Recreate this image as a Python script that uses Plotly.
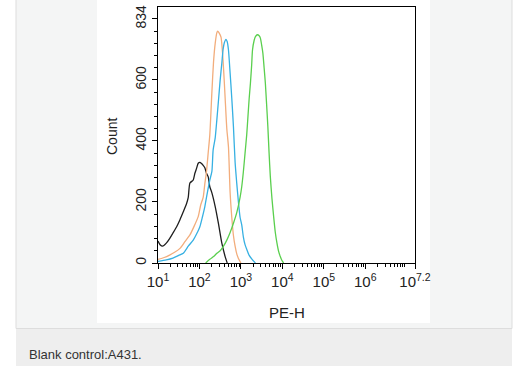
import numpy as np
import plotly.graph_objects as go

# ---- data (x values given as log10 of PE-H) ----
black_log10 = [1.00, 1.05, 1.11, 1.20, 1.28, 1.36, 1.45, 1.53, 1.61, 1.69, 1.73, 1.77, 1.85, 1.89,
               1.93, 1.97, 2.01, 2.05, 2.09, 2.13, 2.17, 2.21, 2.25, 2.30, 2.38, 2.46, 2.54, 2.62, 2.67]
black_count = [72, 60, 55, 65, 80, 98, 119, 142, 168, 195, 215, 262, 272, 294,
               310, 327, 330, 326, 320, 312, 294, 283, 250, 230, 185, 128, 65, 21, 0]

orange_log10 = [1.00, 1.15, 1.28, 1.40, 1.53, 1.65, 1.77, 1.87, 1.97, 2.03, 2.09, 2.13, 2.17, 2.21,
                2.25, 2.30, 2.34, 2.38, 2.42, 2.44, 2.47, 2.52, 2.58, 2.62, 2.66, 2.70, 2.74, 2.78,
                2.82, 2.86, 2.90, 2.94, 3.00]
orange_count = [12, 18, 26, 35, 48, 70, 92, 120, 152, 190, 215, 260, 300, 360,
                420, 560, 660, 720, 755, 760, 755, 740, 640, 540, 440, 380, 230, 150,
                90, 55, 30, 15, 0]

blue_log10 = [1.00, 1.20, 1.36, 1.50, 1.61, 1.73, 1.85, 1.93, 2.01, 2.07, 2.13, 2.19, 2.25, 2.30,
              2.33, 2.38, 2.42, 2.46, 2.50, 2.54, 2.57, 2.60, 2.64, 2.67, 2.70, 2.74, 2.78, 2.82,
              2.86, 2.90, 2.94, 2.98, 3.02, 3.06, 3.10, 3.14, 3.20, 3.27, 3.35]
blue_count = [5, 10, 16, 25, 32, 55, 75, 95, 119, 150, 185, 230, 272, 300,
              370, 410, 470, 534, 600, 655, 700, 722, 733, 725, 698, 622, 540, 447,
              330, 261, 200, 150, 125, 85, 60, 45, 25, 12, 0]

green_log10 = [2.15, 2.25, 2.35, 2.42, 2.50, 2.58, 2.66, 2.74, 2.82, 2.90, 2.98, 3.02, 3.06, 3.10,
               3.14, 3.17, 3.20, 3.23, 3.26, 3.28, 3.32, 3.35, 3.40, 3.44, 3.47, 3.50, 3.53, 3.56,
               3.59, 3.62, 3.65, 3.68, 3.71, 3.75, 3.79, 3.83, 3.87, 3.91, 3.95, 3.99, 4.03]
green_count = [0, 12, 22, 32, 40, 55, 75, 100, 130, 165, 215, 250, 300, 360,
               420, 480, 540, 590, 650, 698, 730, 742, 748, 745, 737, 715, 688, 640,
               589, 520, 447, 360, 283, 210, 152, 100, 65, 38, 21, 8, 0]

x_tick_values = [10, 100, 1000, 10000, 100000, 1000000, 10 ** 7.2]
x_tick_labels = ["10<sup>1</sup>", "10<sup>2</sup>", "10<sup>3</sup>", "10<sup>4</sup>",
                 "10<sup>5</sup>", "10<sup>6</sup>", "10<sup>7.2</sup>"]
y_tick_values = [0, 200, 400, 600, 800]
y_tick_labels = ["0", "200", "400", "600", "834"]

W, H = 532, 366
FONT = "Liberation Sans, Arial, sans-serif"

fig = go.Figure()
series = [
    (black_log10, black_count, "#1e1e1e"),
    (orange_log10, orange_count, "#f2ad7c"),
    (blue_log10, blue_count, "#36b0e2"),
    (green_log10, green_count, "#5acf4e"),
]
for lx, cnt, col in series:
    fig.add_trace(go.Scatter(x=10 ** np.array(lx), y=cnt, mode="lines",
                             line=dict(color=col, width=1.3, shape="spline", smoothing=0.6),
                             showlegend=False, hoverinfo="skip"))

minor_x = [d * 10 ** k for k in range(1, 8) for d in range(2, 10) if d * 10 ** k < 10 ** 7.2]


def px(x):
    return x / W


def py(y):
    return 1 - y / H


shapes = [
    # panel
    dict(type="rect", xref="paper", yref="paper", x0=px(16), x1=px(512), y0=py(328.5), y1=py(-2),
         fillcolor="#f4f5f5", line=dict(color="#dddddd", width=1), layer="below"),
    # white chart image
    dict(type="rect", xref="paper", yref="paper", x0=px(97), x1=px(430), y0=py(323), y1=py(-2),
         fillcolor="#ffffff", line=dict(width=0), layer="below"),
    # caption band
    dict(type="rect", xref="paper", yref="paper", x0=px(16), x1=px(512), y0=py(368), y1=py(329),
         fillcolor="#eeeeee", line=dict(width=0), layer="below"),
]

fig.update_layout(
    width=W, height=H,
    margin=dict(l=0, r=0, t=0, b=0, pad=0, autoexpand=False),
    paper_bgcolor="#ffffff",
    plot_bgcolor="rgba(0,0,0,0)",
    shapes=shapes,
    font=dict(family=FONT, color="#333333"),
    xaxis=dict(
        type="log", range=[1, 7.2], domain=[px(158), px(415)], automargin=False,
        showline=True, linecolor="#000000", linewidth=1, mirror=True,
        showgrid=False, zeroline=False,
        ticks="outside", ticklen=5, tickcolor="#000000",
        tickvals=x_tick_values, ticktext=x_tick_labels,
        tickfont=dict(size=15, color="#222222"),
        minor=dict(tickvals=minor_x, ticks="outside", ticklen=3, tickcolor="#000000", showgrid=False),
    ),
    yaxis=dict(
        range=[0, 839], domain=[py(263), py(7)], automargin=False,
        showline=True, linecolor="#000000", linewidth=1, mirror=True,
        showgrid=False, zeroline=False,
        ticks="outside", ticklen=5, tickcolor="#000000",
        tickvals=y_tick_values, ticktext=y_tick_labels, tickangle=-90,
        tickfont=dict(size=14, color="#222222"),
        minor=dict(dtick=40, ticks="outside", ticklen=3, tickcolor="#000000", showgrid=False),
    ),
    annotations=[
        dict(text="PE-H", xref="paper", yref="paper", x=px(287), y=py(312), showarrow=False,
             font=dict(size=15, color="#222222"), xanchor="center", yanchor="middle"),
        dict(text="Count", xref="paper", yref="paper", x=px(112), y=py(137), showarrow=False,
             textangle=-90, font=dict(size=14, color="#222222"), xanchor="center", yanchor="middle"),
        dict(text="Blank control:A431.", xref="paper", yref="paper", x=px(27), y=py(354),
             showarrow=False, font=dict(size=13, color="#333333"), xanchor="left", yanchor="middle"),
    ],
)

fig.write_html(
    "out.html",
    config={"displayModeBar": False, "responsive": False},
    post_script="document.body.style.margin='0';document.body.style.padding='0';"
                "document.body.style.overflow='hidden';",
)
